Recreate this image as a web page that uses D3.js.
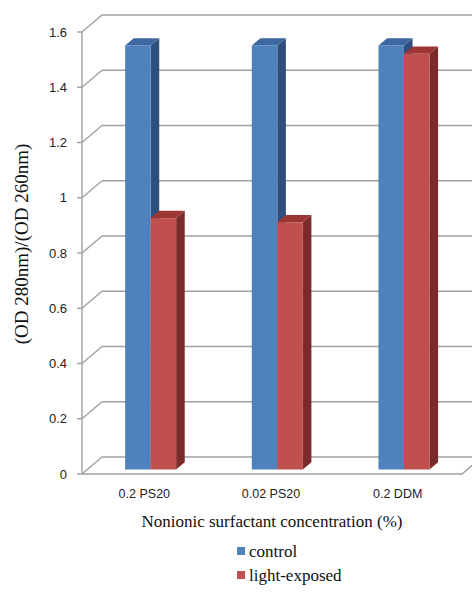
<!DOCTYPE html>
<html><head><meta charset="utf-8">
<script src="https://cdn.jsdelivr.net/npm/d3@7"></script>
<style>html,body{margin:0;padding:0;background:#fff;}svg{display:block;}</style>
</head><body>
<script>
const categories = ["0.2 PS20", "0.02 PS20", "0.2 DDM"];
const seriesNames = ["control", "light-exposed"];
const control = [1.535, 1.535, 1.535];
const lightExposed = [0.91, 0.895, 1.505];
const yTicks = [0, 0.2, 0.4, 0.6, 0.8, 1, 1.2, 1.4, 1.6];

const W = 472, H = 592;
const svg = d3.select("body").append("svg").attr("width", W).attr("height", H);

const x0 = 82, x1 = 462;
const floorY = 474, topY = 32;
const depthX = 20, depthY = -17;     // back wall offset
const barF = 0.265;                  // depth of bar front
const barD = 0.43;                   // bar depth fraction
const barW = 25.5;

const y = d3.scaleLinear().domain([0, 1.6]).range([floorY, topY]);
const x = d3.scaleBand().domain(categories).range([x0, x1]);
const xs = d3.scaleBand().domain(seriesNames).range([0, 2 * barW]);

const SANS = "'Liberation Sans', Arial, sans-serif";
const SERIF = "'Liberation Serif', 'Times New Roman', 'DejaVu Serif', serif";
const grid = "#a0a0a0";
const g = svg.append("g");

// back wall gridlines + left wall diagonals
yTicks.forEach(t => {
  const yy = y(t);
  g.append("line").attr("x1", x0).attr("y1", yy).attr("x2", x0 + depthX).attr("y2", yy + depthY)
    .attr("stroke", grid).attr("stroke-width", 1.4);
  g.append("line").attr("x1", x0 + depthX).attr("y1", yy + depthY).attr("x2", x1 + depthX + 40).attr("y2", yy + depthY)
    .attr("stroke", grid).attr("stroke-width", 1.4);
  g.append("line").attr("x1", x0 - 5).attr("y1", yy).attr("x2", x0).attr("y2", yy)
    .attr("stroke", grid).attr("stroke-width", 1.4);
  g.append("text").attr("x", 67).attr("y", yy).attr("dy", "0.36em").attr("text-anchor", "end")
    .style("font-family", SANS).attr("font-size", 13).attr("fill", "#222")
    .text(d3.format("~g")(t));
});
// front axis
g.append("line").attr("x1", x0).attr("y1", y(1.6)).attr("x2", x0).attr("y2", floorY)
  .attr("stroke", grid).attr("stroke-width", 1.4);
// floor front edge + right diagonal
g.append("path").attr("d", `M${x0},${floorY}L${x1},${floorY}L${x1 + depthX},${floorY + depthY}`)
  .attr("fill", "none").attr("stroke", grid).attr("stroke-width", 1.4);

const colors = {
  "control": { front: "#4F81BD", side: "#2F4F7E", top: "#3D67A0" },
  "light-exposed": { front: "#C0504D", side: "#7A2B2A", top: "#9C3634" }
};

const offX = barF * depthX, offY = barF * depthY;
const dX = barD * depthX, dY = barD * depthY;

categories.forEach((c, i) => {
  const vals = { "control": control[i], "light-exposed": lightExposed[i] };
  seriesNames.forEach(s => {
    const v = vals[s];
    const bx = x(c) + x.bandwidth() / 2 - barW + xs(s) + offX;
    const byTop = y(v) + offY, byBot = y(0) + offY;
    const col = colors[s];
    g.append("path").attr("d", `M${bx + barW},${byTop}L${bx + barW + dX},${byTop + dY}L${bx + barW + dX},${byBot + dY}L${bx + barW},${byBot}Z`)
      .attr("fill", col.side);
    g.append("path").attr("d", `M${bx},${byTop}L${bx + dX},${byTop + dY}L${bx + barW + dX},${byTop + dY}L${bx + barW},${byTop}Z`)
      .attr("fill", col.top);
    g.append("rect").attr("x", bx).attr("y", byTop).attr("width", barW).attr("height", byBot - byTop)
      .attr("fill", col.front);
  });
  g.append("text").attr("x", x(c) + x.bandwidth() / 2 - 1).attr("y", 498).attr("text-anchor", "middle")
    .style("font-family", SANS).attr("font-size", 12.5).attr("fill", "#222")
    .text(c);
});

// axis titles
svg.append("text").attr("x", 272).attr("y", 527).attr("text-anchor", "middle")
  .style("font-family", SERIF).attr("font-size", 17).attr("fill", "#111")
  .text("Nonionic surfactant concentration (%)");
svg.append("text").attr("transform", "translate(28,244) rotate(-90)").attr("text-anchor", "middle")
  .style("font-family", SERIF).attr("font-size", 19).attr("fill", "#111")
  .text("(OD 280nm)/(OD 260nm)");

// legend
const leg = svg.append("g");
seriesNames.forEach((s, i) => {
  const ly = 551 + i * 24;
  leg.append("rect").attr("x", 237).attr("y", ly - 4).attr("width", 8).attr("height", 8).attr("fill", colors[s].front);
  leg.append("text").attr("x", 249).attr("y", ly).attr("dy", "0.35em")
    .style("font-family", SERIF).attr("font-size", 17).attr("fill", "#111")
    .text(s);
});
</script>
</body></html>
